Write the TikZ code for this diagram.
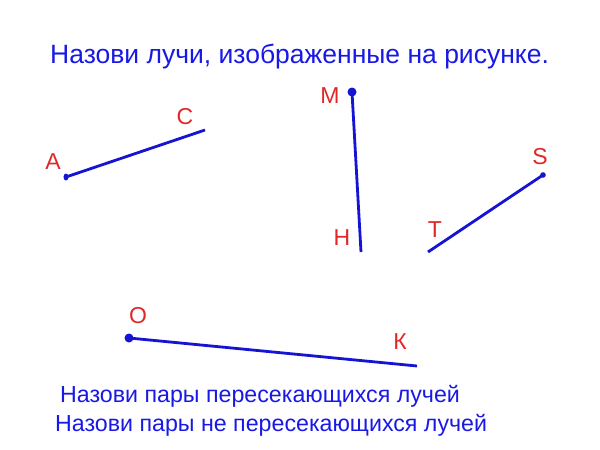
\documentclass[tikz,border=0pt]{standalone}
\usepackage{fontspec}
\setmainfont{Liberation Sans}
\definecolor{lineblue}{RGB}{20,20,210}
\definecolor{textblue}{RGB}{25,25,230}
\definecolor{labred}{RGB}{225,40,40}
\begin{document}
\begin{tikzpicture}[x=1pt,y=-1pt,
  ray/.style={lineblue,line width=2.8pt},
  lab/.style={labred,font=\fontsize{23}{23}\selectfont,inner sep=0pt},
  txt/.style={textblue,inner sep=0pt,anchor=west}]
\useasboundingbox (0,0) rectangle (600,450);
\fill[white] (0,0) rectangle (600,450);
\node[txt,font=\fontsize{26.5}{26.5}\selectfont] (title) at (50,57) {Назови лучи, изображенные на рисунке.};
% ray AC
\coordinate (A) at (66,177); \coordinate (C) at (205,130);
\draw[ray] (A) -- (C);
\fill[lineblue] (A) ellipse (2.5 and 3.5);
\node[lab] (lA) at (53,162) {A};
\node[lab] (lC) at (185,117) {C};
% ray MH
\coordinate (M) at (352,92); \coordinate (H) at (361,252);
\draw[ray] (M) -- (H);
\fill[lineblue] (M) circle (4.5);
\node[lab] (lM) at (330,96) {M};
\node[lab] (lH) at (342,238) {Н};
% ray ST
\coordinate (S) at (543,175); \coordinate (T) at (428,252);
\draw[ray] (S) -- (T);
\fill[lineblue] (S) circle (2.8);
\node[lab] (lS) at (540,157) {S};
\node[lab] (lT) at (435,230) {T};
% ray OK
\coordinate (O) at (129,338); \coordinate (K) at (417,366);
\draw[ray] (O) -- (K);
\fill[lineblue] (O) circle (4.5);
\node[lab] (lO) at (138,316) {O};
\node[lab] (lK) at (400,342) {К};
\node[txt,font=\fontsize{23.2}{23.2}\selectfont] (q1) at (60,396) {Назови пары пересекающихся лучей};
\node[txt,font=\fontsize{23.2}{23.2}\selectfont] (q2) at (55,425) {Назови пары не пересекающихся лучей};
\end{tikzpicture}
\end{document}
